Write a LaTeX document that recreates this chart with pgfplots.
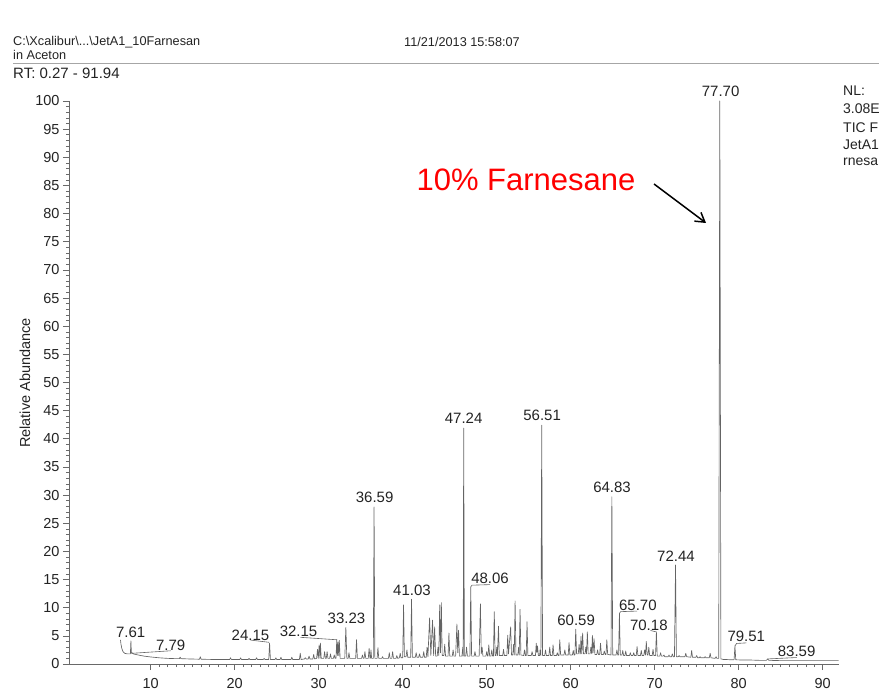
\documentclass[border=0pt]{standalone}
\usepackage{pgfplots}
\pgfplotsset{compat=1.18}
\usepackage{fontspec}
\setmainfont{Liberation Sans}
\usetikzlibrary{arrows.meta}
\definecolor{txt}{RGB}{35,35,35}
\definecolor{trace}{RGB}{100,100,100}
\definecolor{axc}{RGB}{105,105,105}
\definecolor{redtxt}{RGB}{255,0,0}
\begin{document}
\begin{tikzpicture}
\useasboundingbox (0pt,0pt) rectangle (879pt,694pt);
% header
\node[anchor=west,inner sep=0,font=\fontsize{12.7}{15}\selectfont,text=txt] at (13pt,652pt) {C:\textbackslash Xcalibur\textbackslash ...\textbackslash JetA1\_10Farnesan};
\node[anchor=west,inner sep=0,font=\fontsize{12.7}{15}\selectfont,text=txt] at (13pt,639pt) {in Aceton};
\node[inner sep=0,font=\fontsize{12.7}{15}\selectfont,text=txt] at (462pt,652pt) {11/21/2013 15:58:07};
\draw[gray!70, line width=0.8pt] (13pt,631pt) -- (879pt,631pt);
\node[anchor=west,inner sep=0,font=\fontsize{15}{18}\selectfont,text=txt] at (13pt,621pt) {RT: 0.27 - 91.94};
% right side info
\foreach \t/\yy in {NL:/603, 3.08E/585, TIC F/566, JetA1/549, rnesa/532}{
  \node[anchor=west,inner sep=0,font=\fontsize{14}{17}\selectfont,text=txt] at (843pt,\yy pt) {\t};
}
% y label
\node[rotate=90,inner sep=0,font=\fontsize{14.5}{17}\selectfont,text=txt] at (25pt,311pt) {Relative Abundance};
% red annotation
\node[inner sep=0,font=\fontsize{31}{36}\selectfont,text=redtxt] at (526pt,514pt) {10\% Farnesane};
\draw[black, line width=1.5pt, -{Straight Barb[length=9pt,width=11pt]}] (654pt,510pt) -- (706pt,471pt);
\begin{axis}[
  at={(69pt,30pt)}, anchor=south west,
  scale only axis, width=770pt, height=563pt,
  xmin=0.27, xmax=91.94, ymin=0, ymax=100,
  axis x line=bottom, axis y line=left,
  axis line style={-, draw=axc, line width=0.8pt},
  xtick={10,20,...,90}, ytick={0,5,...,100},
  minor x tick num=9, minor y tick num=4,
  tick align=outside,
  major tick length=6pt, minor tick length=3pt,
  every tick/.style={draw=axc, line width=0.6pt},
  tick label style={font=\fontsize{14.5}{17}\selectfont, text=txt},
  xticklabel style={yshift=-5pt},
  /pgf/number format/assume math mode=true,
  clip=false,
]
\addplot[trace, line width=0.65pt, line join=round] coordinates {
(6.40,4.3) (6.45,3.6) (6.55,2.8) (6.70,2.2) (6.90,1.9) (7.20,1.8) (7.50,1.8) (7.58,1.8) (7.64,4.1) (7.70,1.9) (7.79,2.0) (7.90,1.8)
(8.50,1.6) (9.20,1.4) (10.0,1.25) (11.0,1.1) (12.0,1.0) (13.0,0.95) (13.4,0.95) (13.5,1.2) (13.6,0.95) (14.5,0.9) (15.8,0.85) (15.9,1.3) (16.0,0.85)
(17.5,0.8) (19.4,0.8) (19.5,1.1) (19.6,0.8) (20.6,0.8) (20.7,1.1) (20.8,0.8) (21.6,0.8) (21.7,1.0) (21.8,0.8) (22.5,0.8) (22.6,1.1) (22.7,0.8)
(23.4,0.8) (23.5,1.0) (23.6,0.8) (24.05,0.8) (24.15,3.7) (24.25,0.8) (24.8,0.8) (24.9,1.1) (25.0,0.8) (25.4,0.8) (25.5,1.2) (25.6,0.8)
(26.7,0.8) (26.8,1.2) (26.9,0.8) (27.7,0.8) (27.8,1.9) (27.9,0.8) (28.3,0.9) (28.4,1.1) (28.5,0.9) (28.75,0.9) (28.85,1.4) (28.95,0.9)
(29.3,0.9) (29.4,1.7) (29.5,0.9) (29.75,1.0) (29.85,2.6) (29.95,1.0) (30.05,3.4) (30.15,1.0) (30.2,3.7) (30.3,1.0) (30.6,1.0) (30.7,2.2) (30.8,1.0)
(30.9,1.0) (31.0,2.2) (31.1,1.0) (31.3,1.0) (31.4,1.8) (31.5,1.0) (31.75,1.0) (31.85,1.6) (31.95,1.0) (32.05,1.0) (32.15,4.3) (32.22,1.5)
(32.3,3.9) (32.38,1.5) (32.45,4.2) (32.55,1.0) (33.1,1.0) (33.23,6.5) (33.35,1.0) (33.5,1.0) (33.6,2.0) (33.7,1.0) (34.4,1.0) (34.5,4.3) (34.6,1.0)
(35.1,1.0) (35.2,1.6) (35.3,1.0) (35.4,1.0) (35.5,2.2) (35.6,1.0) (35.9,1.0) (36.0,2.8) (36.1,1.0) (36.15,1.0) (36.22,2.5) (36.3,1.0)
(36.5,1.0) (36.59,27.9) (36.68,1.0) (36.95,1.0) (37.05,2.9) (37.15,1.0) (37.5,1.0) (37.6,1.3) (37.7,1.0) (38.3,1.0) (38.4,2.0) (38.5,1.0)
(38.7,1.0) (38.8,2.2) (38.9,1.0) (39.2,1.0) (39.3,1.5) (39.4,1.0) (39.6,1.1) (39.7,1.9) (39.8,1.1) (40.0,1.1) (40.1,10.5) (40.2,1.3)
(40.4,1.3) (40.5,2.5) (40.6,1.2) (40.95,1.2) (41.05,11.5) (41.15,1.2) (41.5,1.2) (41.6,2.0) (41.7,1.2) (41.9,1.2) (42.0,1.8) (42.1,1.2)
(42.4,1.2) (42.5,2.2) (42.6,1.2) (42.8,1.2) (42.9,3.0) (43.0,1.3) (43.2,8.2) (43.35,1.5) (43.55,7.8) (43.68,1.5) (43.8,6.6) (43.92,1.4)
(44.1,1.4) (44.2,3.0) (44.3,1.5) (44.4,10.5) (44.5,2.0) (44.6,10.9) (44.7,1.5) (44.9,1.5) (45.0,3.5) (45.1,1.4) (45.4,1.4) (45.5,5.5) (45.6,1.4)
(45.9,1.4) (46.0,2.5) (46.1,1.4) (46.3,1.4) (46.45,7.1) (46.55,2.0) (46.65,6.0) (46.75,1.4) (47.05,1.4) (47.15,3.0) (47.2,1.4) (47.26,41.9)
(47.34,1.4) (47.5,1.4) (47.6,3.0) (47.7,1.4) (48.0,1.4) (48.1,13.7) (48.2,1.4) (48.5,1.4) (48.6,2.2) (48.7,1.4) (49.1,1.4) (49.25,10.7)
(49.35,1.8) (49.45,3.0) (49.55,1.4) (49.9,1.4) (50.0,2.2) (50.1,1.4) (50.15,1.4) (50.25,3.4) (50.35,1.4) (50.5,1.4) (50.6,2.5) (50.7,1.4)
(50.8,1.4) (50.9,9.3) (51.0,1.5) (51.1,1.5) (51.2,3.0) (51.28,1.5) (51.4,6.7) (51.5,1.5) (51.9,1.5) (52.0,2.6) (52.1,1.5) (52.4,1.5)
(52.5,5.1) (52.6,1.8) (52.85,6.6) (52.95,1.6) (53.1,1.6) (53.2,3.5) (53.28,1.6) (53.38,11.2) (53.48,1.6) (53.7,1.6) (53.8,3.0) (53.87,1.6)
(53.97,9.7) (54.07,1.6) (54.4,1.5) (54.5,2.5) (54.6,1.5) (54.7,1.5) (54.8,7.5) (54.9,1.5) (55.3,1.5) (55.4,2.2) (55.5,1.5) (55.8,1.5)
(55.9,3.7) (55.97,2.0) (56.05,3.2) (56.15,1.5) (56.3,1.5) (56.35,2.5) (56.45,1.5) (56.55,42.4) (56.65,1.5) (56.9,1.5) (57.0,2.5) (57.1,1.5)
(57.4,1.5) (57.5,3.0) (57.6,1.5) (57.8,1.5) (57.9,3.4) (58.0,1.5) (58.3,1.5) (58.4,2.0) (58.5,1.5) (58.6,1.5) (58.7,4.3) (58.8,1.6)
(59.2,1.6) (59.3,2.5) (59.4,1.6) (59.7,1.6) (59.8,3.8) (59.9,1.6) (60.2,1.6) (60.3,2.4) (60.4,1.6) (60.5,1.6) (60.6,6.2) (60.7,1.8)
(60.9,1.8) (61.0,3.5) (61.1,1.8) (61.15,1.8) (61.22,4.9) (61.32,1.8) (61.42,5.5) (61.52,1.8) (61.7,1.8) (61.8,3.0) (61.88,1.8) (61.98,5.7)
(62.08,1.8) (62.3,1.8) (62.4,3.0) (62.5,1.8) (62.58,5.1) (62.66,2.0) (62.78,4.5) (62.88,1.7) (63.1,1.7) (63.2,2.5) (63.3,1.7) (63.45,1.7)
(63.55,3.7) (63.65,1.7) (63.9,1.7) (64.0,2.3) (64.1,1.7) (64.2,1.7) (64.3,4.3) (64.4,1.7) (64.8,1.6) (64.9,29.7) (65.0,1.6) (65.4,1.6)
(65.5,2.5) (65.6,1.6) (65.7,1.6) (65.8,9.0) (65.9,1.6) (66.1,1.6) (66.2,2.4) (66.3,1.5) (66.45,1.5) (66.55,2.3) (66.65,1.5) (67.0,1.5)
(67.1,2.0) (67.2,1.5) (67.4,1.5) (67.5,2.0) (67.6,1.5) (67.8,1.5) (67.9,3.1) (68.0,1.5) (68.3,1.5) (68.4,2.4) (68.5,1.5) (68.7,1.5)
(68.8,2.5) (68.9,1.6) (69.0,4.0) (69.1,1.6) (69.2,1.6) (69.3,3.0) (69.4,1.5) (69.7,1.5) (69.8,2.6) (69.9,1.5) (70.1,1.5) (70.2,5.7)
(70.3,1.4) (70.6,1.4) (70.7,2.0) (70.8,1.4) (71.0,1.4) (71.1,1.6) (71.2,1.3) (71.6,1.3) (71.7,1.6) (71.8,1.3) (72.0,1.3) (72.1,1.8)
(72.2,1.3) (72.35,1.3) (72.48,17.6) (72.58,1.3) (72.8,1.3) (72.9,1.5) (73.0,1.3) (73.6,1.3) (73.7,1.9) (73.8,1.3) (74.3,1.2) (74.4,2.4)
(74.5,1.2) (74.9,1.2) (75.0,1.5) (75.1,1.1) (75.3,1.1) (75.4,1.3) (75.5,1.1) (75.9,1.1) (76.0,1.3) (76.1,1.1) (76.5,1.1) (76.6,1.9)
(76.7,1.1) (77.2,1.0) (77.3,1.3) (77.4,1.0) (77.62,1.0) (77.75,100) (77.88,0.9) (78.2,0.8) (78.5,0.8) (79.0,0.75) (79.45,0.75) (79.55,3.2)
(79.65,0.75) (80.5,0.7) (81.5,0.7) (82.5,0.65) (83.3,0.65) (83.45,0.9) (83.6,0.65) (85.0,0.6) (87.0,0.6) (89.0,0.6) (91.9,0.6)
};
% peak labels
\tikzset{lbl/.style={inner sep=0, font=\fontsize{15}{18}\selectfont, text=txt}, ld/.style={draw=trace, line width=0.6pt}}
\node[lbl] at (axis cs:7.61,5.7) {7.61};
\node[lbl] at (axis cs:12.37,3.4) {7.79};
\draw[ld] (axis cs:7.8,1.9) -- (axis cs:12.37,2.35);
\node[lbl] at (axis cs:21.88,5.15) {24.15};
\draw[ld] (axis cs:21.88,4.25) -- (axis cs:24.1,3.85);
\node[lbl] at (axis cs:27.6,5.75) {32.15};
\draw[ld] (axis cs:27.83,4.74) -- (axis cs:32.19,4.3);
\node[lbl] at (axis cs:33.3,8.1) {33.23};
\node[lbl] at (axis cs:36.66,29.6) {36.59};
\node[lbl] at (axis cs:41.1,13.1) {41.03};
\node[lbl] at (axis cs:47.25,43.6) {47.24};
\node[lbl] at (axis cs:50.4,15.2) {48.06};
\draw[ld] (axis cs:48.1,13.7) -- (axis cs:48.25,14.0) -- (axis cs:50.4,14.1);
\node[lbl] at (axis cs:56.6,44.2) {56.51};
\node[lbl] at (axis cs:60.64,7.8) {60.59};
\node[lbl] at (axis cs:64.92,31.4) {64.83};
\node[lbl] at (axis cs:68.0,10.4) {65.70};
\draw[ld] (axis cs:65.8,9.0) -- (axis cs:65.95,9.3) -- (axis cs:67.9,9.4);
\node[lbl] at (axis cs:69.3,6.9) {70.18};
\draw[ld] (axis cs:69.5,5.95) -- (axis cs:70.2,5.7);
\node[lbl] at (axis cs:72.53,19.06) {72.44};
\node[lbl] at (axis cs:77.85,101.65) {77.70};
\node[lbl] at (axis cs:80.9,5.0) {79.51};
\draw[ld] (axis cs:79.55,3.2) -- (axis cs:79.75,3.65) -- (axis cs:80.9,3.75);
\node[lbl] at (axis cs:86.9,2.2) {83.59};
\draw[ld] (axis cs:83.45,0.9) -- (axis cs:86.9,1.15);
\end{axis}
\end{tikzpicture}
\end{document}
